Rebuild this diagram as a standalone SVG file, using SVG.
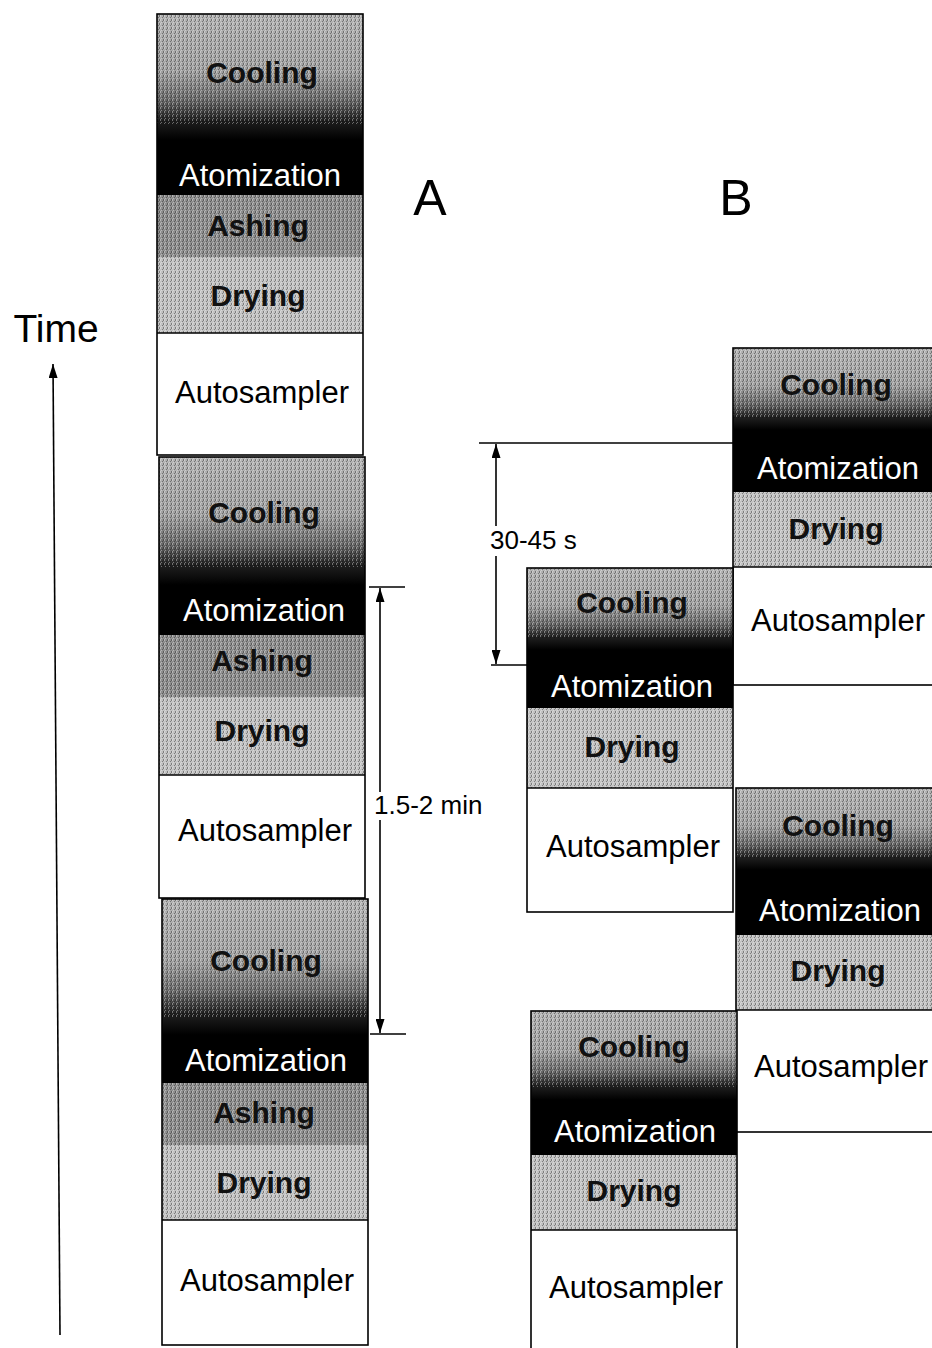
<svg xmlns="http://www.w3.org/2000/svg" width="932" height="1348" viewBox="0 0 932 1348">
<defs>
<linearGradient id="cool" x1="0" y1="0" x2="0" y2="1">
<stop offset="0" stop-color="#b4b4b4"/>
<stop offset="0.45" stop-color="#a2a2a2"/>
<stop offset="0.68" stop-color="#6a6a6a"/>
<stop offset="0.85" stop-color="#1e1e1e"/>
<stop offset="1" stop-color="#000"/>
</linearGradient>
<pattern id="grain" width="4" height="4" patternUnits="userSpaceOnUse">
<rect x="0" y="0" width="1" height="1" fill="#fff"/>
<rect x="2" y="1" width="1" height="1" fill="#000"/>
<rect x="1" y="2" width="1" height="1" fill="#fff"/>
<rect x="3" y="3" width="1" height="1" fill="#000"/>
<rect x="3" y="0" width="1" height="1" fill="#000"/>
<rect x="0" y="3" width="1" height="1" fill="#fff"/>
</pattern>
<marker id="ah" markerWidth="14" markerHeight="9" refX="14" refY="4.5" orient="auto" markerUnits="userSpaceOnUse">
<path d="M0,0 L14,4.5 L0,9 z" fill="#000"/>
</marker>
<style>
.cool{fill:url(#cool)}
.atom{fill:#000}
.ash{fill:#8e8e8e}
.dry{fill:#c2c2c2}
.auto{fill:#fff}
.grain{fill:url(#grain);opacity:0.35}
.box{fill:none;stroke:#000;stroke-width:1.6}
.div{stroke:#000;stroke-width:1.6}
text{font-family:"Liberation Sans",Arial,sans-serif;text-anchor:middle}
.lbl{font-size:30px;fill:#111;font-weight:bold}
.wt{font-size:31px;fill:#fff}
.bk{font-size:31px;fill:#000}
.big{font-size:50px;fill:#000}
.dim{font-size:26px;fill:#000;text-anchor:start}
.ln{stroke:#000;stroke-width:1.6;fill:none}
</style>
</defs>
<rect width="932" height="1348" fill="#fff"/>

<g id="A1">
<rect class="cool" x="157" y="14" width="206" height="126"/>
<rect class="atom" x="157" y="140" width="206" height="55"/>
<rect class="ash" x="157" y="195" width="206" height="62"/>
<rect class="dry" x="157" y="257" width="206" height="76"/>
<rect class="grain" x="157" y="14" width="206" height="110"/>
<rect class="grain" x="157" y="195" width="206" height="138"/>
<rect class="auto" x="157" y="333" width="206" height="122"/>
<line class="div" x1="157" y1="333" x2="363" y2="333"/>
<rect class="box" x="157" y="14" width="206" height="441"/>
<text class="lbl" x="262" y="83">Cooling</text>
<text class="wt" x="260" y="186">Atomization</text>
<text class="lbl" x="258" y="236">Ashing</text>
<text class="lbl" x="258" y="306">Drying</text>
<text class="bk" x="262" y="403">Autosampler</text>
</g>

<g id="A2">
<rect class="cool" x="159" y="457" width="206" height="128"/>
<rect class="atom" x="159" y="585" width="206" height="50"/>
<rect class="ash" x="159" y="635" width="206" height="62"/>
<rect class="dry" x="159" y="697" width="206" height="78"/>
<rect class="grain" x="159" y="457" width="206" height="110"/>
<rect class="grain" x="159" y="635" width="206" height="140"/>
<rect class="auto" x="159" y="775" width="206" height="123"/>
<line class="div" x1="159" y1="775" x2="365" y2="775"/>
<rect class="box" x="159" y="457" width="206" height="441"/>
<text class="lbl" x="264" y="523">Cooling</text>
<text class="wt" x="264" y="621">Atomization</text>
<text class="lbl" x="262" y="671">Ashing</text>
<text class="lbl" x="262" y="741">Drying</text>
<text class="bk" x="265" y="841">Autosampler</text>
</g>

<g id="A3">
<rect class="cool" x="162" y="899" width="206" height="136"/>
<rect class="atom" x="162" y="1035" width="206" height="48"/>
<rect class="ash" x="162" y="1083" width="206" height="62"/>
<rect class="dry" x="162" y="1145" width="206" height="75"/>
<rect class="grain" x="162" y="899" width="206" height="118"/>
<rect class="grain" x="162" y="1083" width="206" height="137"/>
<rect class="auto" x="162" y="1220" width="206" height="125"/>
<line class="div" x1="162" y1="1220" x2="368" y2="1220"/>
<rect class="box" x="162" y="899" width="206" height="446"/>
<text class="lbl" x="266" y="971">Cooling</text>
<text class="wt" x="266" y="1071">Atomization</text>
<text class="lbl" x="264" y="1123">Ashing</text>
<text class="lbl" x="264" y="1193">Drying</text>
<text class="bk" x="267" y="1291">Autosampler</text>
</g>

<g id="B1">
<rect class="cool" x="733" y="348" width="210" height="82"/>
<rect class="atom" x="733" y="430" width="210" height="62"/>
<rect class="dry" x="733" y="492" width="210" height="75"/>
<rect class="grain" x="733" y="348" width="210" height="70"/>
<rect class="grain" x="733" y="492" width="210" height="75"/>
<rect class="auto" x="733" y="567" width="210" height="118"/>
<line class="div" x1="733" y1="567" x2="943" y2="567"/>
<rect class="box" x="733" y="348" width="210" height="337"/>
<text class="lbl" x="836" y="395">Cooling</text>
<text class="wt" x="838" y="479">Atomization</text>
<text class="lbl" x="836" y="539">Drying</text>
<text class="bk" x="838" y="631">Autosampler</text>
</g>

<g id="B2">
<rect class="cool" x="527" y="568" width="206" height="82"/>
<rect class="atom" x="527" y="650" width="206" height="58"/>
<rect class="dry" x="527" y="708" width="206" height="80"/>
<rect class="grain" x="527" y="568" width="206" height="70"/>
<rect class="grain" x="527" y="708" width="206" height="80"/>
<rect class="auto" x="527" y="788" width="206" height="124"/>
<line class="div" x1="527" y1="788" x2="733" y2="788"/>
<rect class="box" x="527" y="568" width="206" height="344"/>
<text class="lbl" x="632" y="613">Cooling</text>
<text class="wt" x="632" y="697">Atomization</text>
<text class="lbl" x="632" y="757">Drying</text>
<text class="bk" x="633" y="857">Autosampler</text>
</g>

<g id="B3">
<rect class="cool" x="736" y="788" width="210" height="82"/>
<rect class="atom" x="736" y="870" width="210" height="65"/>
<rect class="dry" x="736" y="935" width="210" height="75"/>
<rect class="grain" x="736" y="788" width="210" height="70"/>
<rect class="grain" x="736" y="935" width="210" height="75"/>
<rect class="auto" x="736" y="1010" width="210" height="122"/>
<line class="div" x1="736" y1="1010" x2="946" y2="1010"/>
<rect class="box" x="736" y="788" width="210" height="344"/>
<text class="lbl" x="838" y="836">Cooling</text>
<text class="wt" x="840" y="921">Atomization</text>
<text class="lbl" x="838" y="981">Drying</text>
<text class="bk" x="841" y="1077">Autosampler</text>
</g>

<g id="B4">
<rect class="cool" x="531" y="1011" width="206" height="89"/>
<rect class="atom" x="531" y="1100" width="206" height="55"/>
<rect class="dry" x="531" y="1155" width="206" height="75"/>
<rect class="grain" x="531" y="1011" width="206" height="76"/>
<rect class="grain" x="531" y="1155" width="206" height="75"/>
<rect class="auto" x="531" y="1230" width="206" height="130"/>
<line class="div" x1="531" y1="1230" x2="737" y2="1230"/>
<rect class="box" x="531" y="1011" width="206" height="349"/>
<text class="lbl" x="634" y="1057">Cooling</text>
<text class="wt" x="635" y="1142">Atomization</text>
<text class="lbl" x="634" y="1201">Drying</text>
<text class="bk" x="636" y="1298">Autosampler</text>
</g>

<g id="labels">
<text class="big" x="430" y="215">A</text>
<text class="big" x="736" y="215">B</text>
<text x="56" y="342" style="font-size:39px;fill:#000">Time</text>
<text class="dim" x="490" y="549">30-45 s</text>
<text class="dim" x="374" y="814">1.5-2 min</text>
</g>

<g id="connectors">
<line class="ln" x1="60" y1="1335" x2="53" y2="364" marker-end="url(#ah)"/>
<line class="ln" x1="369" y1="587" x2="405" y2="587"/>
<line class="ln" x1="370" y1="1034" x2="406" y2="1034"/>
<line class="ln" x1="380" y1="792" x2="380" y2="588" marker-end="url(#ah)"/>
<line class="ln" x1="380" y1="820" x2="380" y2="1033" marker-end="url(#ah)"/>
<line class="ln" x1="479" y1="443" x2="733" y2="443"/>
<line class="ln" x1="491" y1="665" x2="527" y2="665"/>
<line class="ln" x1="496" y1="526" x2="496" y2="444" marker-end="url(#ah)"/>
<line class="ln" x1="496" y1="556" x2="496" y2="664" marker-end="url(#ah)"/>
</g>
</svg>
